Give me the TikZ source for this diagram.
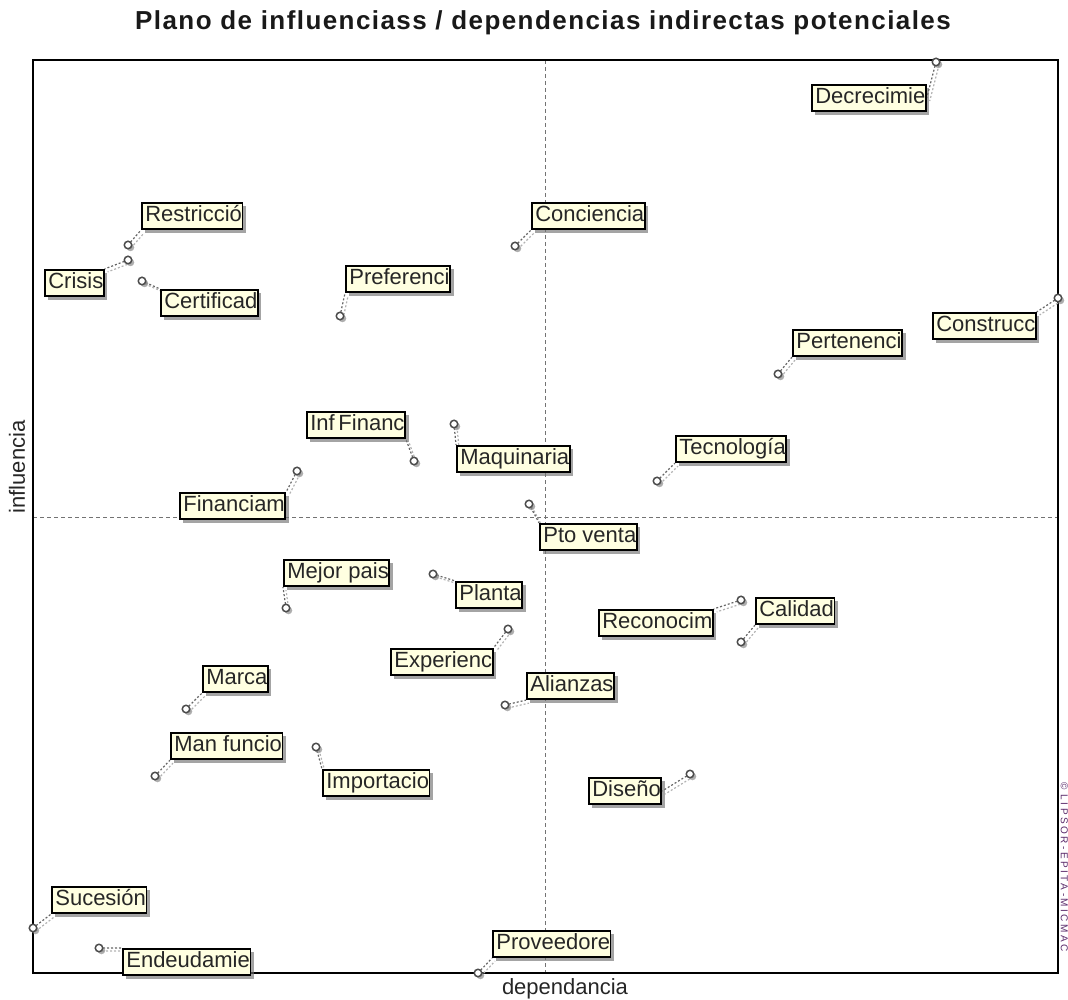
\documentclass[tikz,border=0pt]{standalone}
\usepackage{fontspec}
\setmainfont{Liberation Sans}
\usetikzlibrary{shadows,backgrounds}
\definecolor{labelfill}{HTML}{FFFFE1}
\definecolor{marktext}{HTML}{5A2A6A}
\begin{document}
\begin{tikzpicture}[x=1pt,y=-1pt,
  lbl/.style={draw=black,line width=1.7pt,fill=labelfill,anchor=west,
    inner xsep=3.5pt,inner ysep=3pt,text height=16pt,text depth=4.5pt,
    font=\fontsize{22}{24}\selectfont,text=black!85,
    drop shadow={shadow xshift=3.5pt,shadow yshift=-3.5pt,fill=black!55,opacity=.65}},
  pt/.style={circle,draw=black!70,line width=1.5pt,fill=white,inner sep=0pt,minimum size=7.5pt,
    drop shadow={shadow xshift=2.5pt,shadow yshift=-2.5pt,fill=black!45,opacity=.7}},
  conn/.style={draw=black!60,line width=1.2pt,dash pattern=on 2pt off 2pt},
  connsh/.style={draw=black!30,line width=1.2pt,dash pattern=on 2pt off 2pt},
  axisline/.style={draw=black!55,line width=0.9pt,dash pattern=on 4pt off 3pt},
  frame/.style={draw=black,line width=1.4pt},
  axislabel/.style={font=\fontsize{22}{24}\selectfont,text=black!85,inner sep=0pt}]

\useasboundingbox (0,0) rectangle (1068,1000);

% plot area with the two median axes
\begin{scope}[on background layer]
  \draw[axisline] (545,60) -- (545,973);
  \draw[axisline] (33,517) -- (1058,517);
  \draw[frame] (33,60) rectangle (1058,973);
\end{scope}

% title and axis names
\node[font=\bfseries\fontsize{26}{28}\selectfont\addfontfeatures{LetterSpace=5.5},text=black!90] (title) at (543,23) {Plano de influenciass / dependencias indirectas potenciales};
\node[axislabel,rotate=90] (ylab) at (17,467) {influencia};
\node[axislabel] (xlab) at (565,989) {dependancia};
\node[font=\fontsize{10}{11}\selectfont\addfontfeatures{LetterSpace=25},text=marktext,rotate=-90,anchor=north west,inner sep=0pt] (mark) at (1068,782) {© LIPSOR-EPITA-MICMAC};

% point, label and dotted leader:  name, point x, y, label west x, y, leader corner, text
\newcommand\mklab[7]{%
  \node[pt] (p#1) at (#2,#3) {};
  \node[lbl] (l#1) at (#4,#5) {#7\kern-3pt};
  \begin{scope}[on background layer]
    \draw[connsh] ([shift={(3,3)}]p#1.center) -- ([shift={(3,3)}]l#1.#6);
    \draw[conn] (p#1.center) -- (l#1.#6);
  \end{scope}}

\mklab{dec}{936}{62}{811}{98}{east}{Decrecimie}
\mklab{res}{128}{245}{141}{216}{south west}{Restricció}
\mklab{cri}{128}{260}{44}{283}{north east}{Crisis}
\mklab{cer}{142}{281}{160}{303}{north west}{Certificad}
\mklab{con}{515}{246}{531}{216}{south west}{Conciencia}
\mklab{pre}{340}{316}{345}{279}{south west}{Preferenci}
\mklab{cons}{1058}{298}{932}{326}{north east}{Construcc}
\mklab{per}{778}{374}{792}{343}{south west}{Pertenenci}
\mklab{inf}{414}{461}{306}{425}{south east}{Inf\,Financ}
\mklab{maq}{454}{424}{456}{459}{north west}{Maquinaria}
\mklab{tec}{657}{481}{675}{449}{south west}{Tecnología}
\mklab{fin}{297}{471}{179}{506}{north east}{Financiam}
\mklab{pto}{529}{504}{539}{537}{north west}{Pto venta}
\mklab{mej}{286}{608}{283}{573}{south west}{Mejor pais}
\mklab{pla}{433}{574}{455}{595}{north west}{Planta}
\mklab{rec}{741}{600}{598}{623}{north east}{Reconocim}
\mklab{cal}{741}{642}{755}{611}{south west}{Calidad}
\mklab{exp}{508}{629}{390}{662}{north east}{Experienc}
\mklab{mar}{186}{709}{202}{679}{south west}{Marca}
\mklab{ali}{505}{705}{526}{686}{south west}{Alianzas}
\mklab{man}{155}{776}{170}{746}{south west}{Man funcio}
\mklab{imp}{316}{747}{322}{783}{north west}{Importacio}
\mklab{dis}{690}{774}{588}{791}{east}{Diseño}
\mklab{suc}{33}{928}{51}{900}{south west}{Sucesión}
\mklab{end}{99}{948}{122}{962}{north west}{Endeudamie}
\mklab{pro}{478}{973}{492}{944}{south west}{Proveedore}

\end{tikzpicture}
\end{document}
